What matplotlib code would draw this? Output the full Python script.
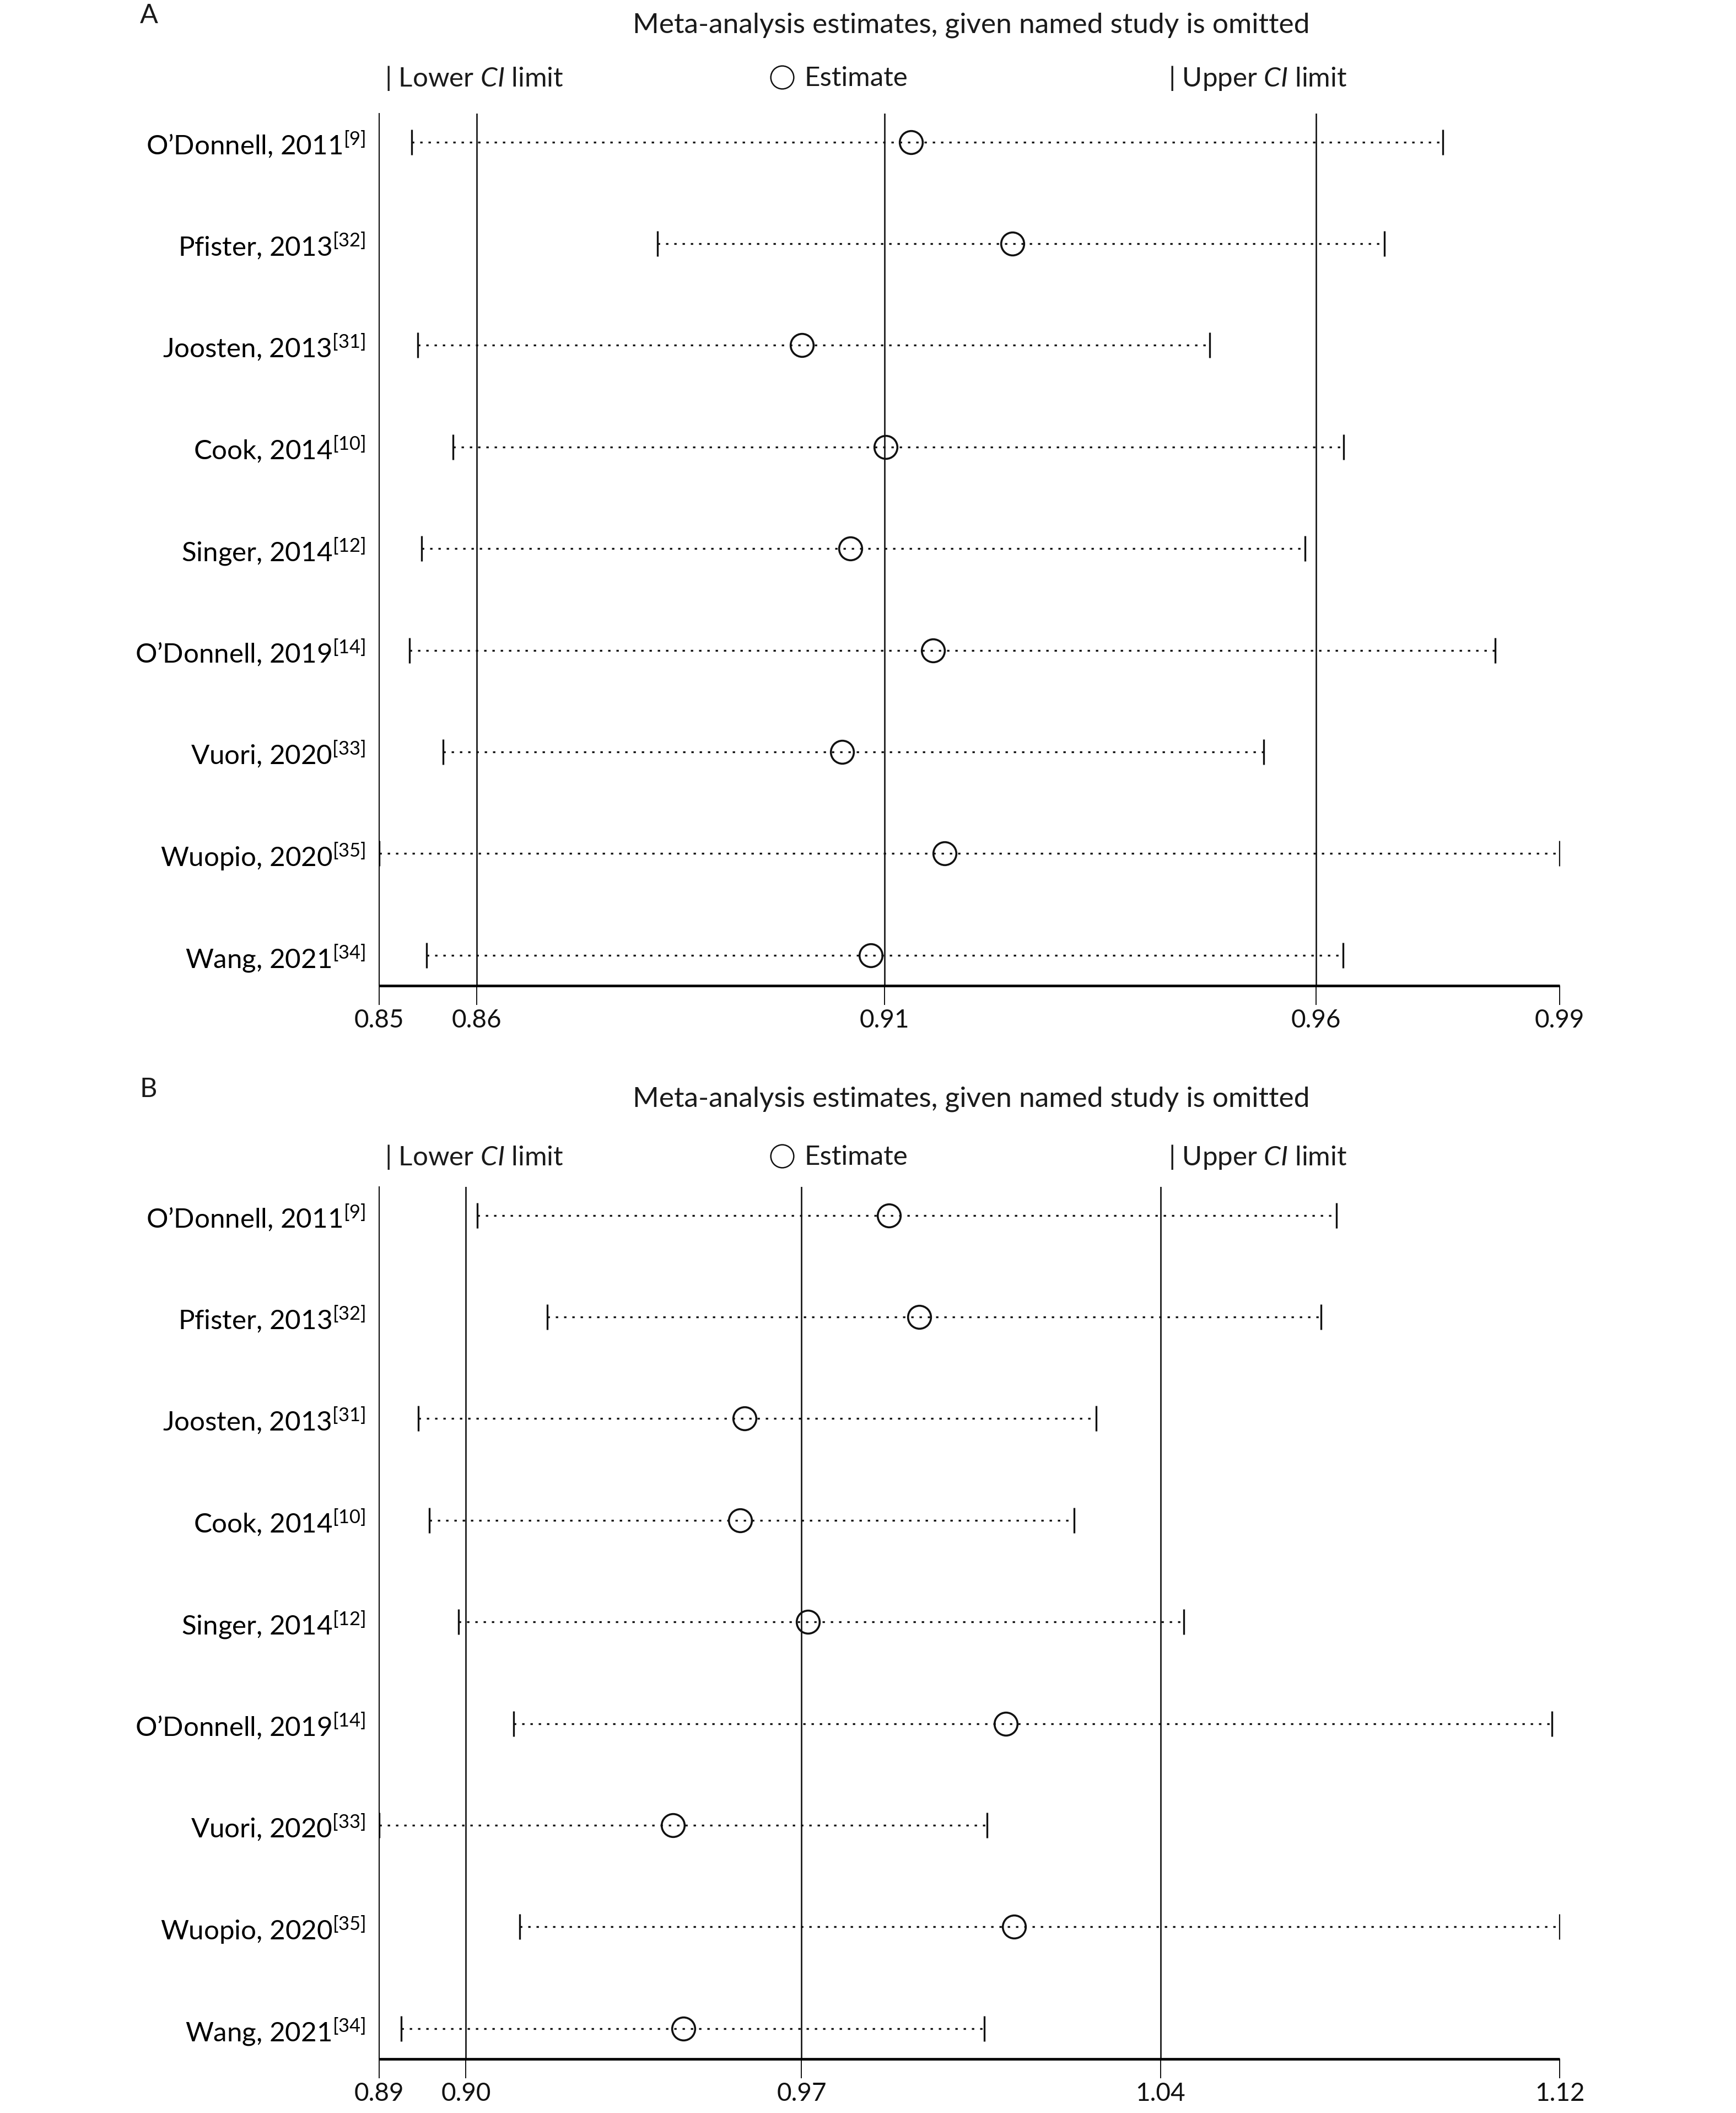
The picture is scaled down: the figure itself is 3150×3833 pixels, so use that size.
import matplotlib
matplotlib.use("Agg")
import matplotlib.pyplot as plt

plt.rcParams['font.family'] = ['Lato', 'DejaVu Sans']
plt.rcParams['mathtext.fontset'] = 'custom'
plt.rcParams['mathtext.rm'] = 'Lato'
plt.rcParams['mathtext.it'] = 'Lato:italic'
plt.rcParams['text.color'] = '#1a1a1a'

studies = ["O’Donnell, 2011", "Pfister, 2013", "Joosten, 2013", "Cook, 2014",
           "Singer, 2014", "O’Donnell, 2019", "Vuori, 2020", "Wuopio, 2020",
           "Wang, 2021"]
refs = ["9", "32", "31", "10", "12", "14", "33", "35", "34"]

# panel A
lower_a = [0.8527, 0.8827, 0.8534, 0.8577, 0.8539, 0.8524, 0.8565, 0.8487, 0.8545]
est_a = [0.9137, 0.9261, 0.9004, 0.9106, 0.9063, 0.9164, 0.9053, 0.9178, 0.9088]
upper_a = [0.9787, 0.9716, 0.9502, 0.9666, 0.9619, 0.9851, 0.9568, 0.9930, 0.9665]
overall_a = [0.8606, 0.9105, 0.9632]   # lower CI, estimate, upper CI

# panel B
lower_b = [0.9069, 0.9204, 0.8955, 0.8976, 0.9033, 0.9139, 0.8880, 0.9150, 0.8922]
est_b = [0.9861, 0.9920, 0.9583, 0.9575, 0.9705, 1.0086, 0.9445, 1.0102, 0.9466]
upper_b = [1.0722, 1.0693, 1.0260, 1.0218, 1.0429, 1.1137, 1.0050, 1.1152, 1.0045]
overall_b = [0.9047, 0.9693, 1.0384]

title = "Meta-analysis estimates, given named study is omitted"

W, H = 3150, 3833


def fx(px):
    return px / W


def fy(py):
    return 1 - py / H


def panel(ax, lo, est, hi, overall, letter, y_letter, y_title, y_leg):
    rows = list(range(1, len(studies) + 1))
    ax.hlines(rows, lo, hi, colors='#111111', lw=2.4, linestyles=(0, (1.3, 3.2)), zorder=2)
    ax.plot(lo, rows, '|', color='#111111', ms=33, mew=2.4, zorder=3)
    ax.plot(hi, rows, '|', color='#111111', ms=33, mew=2.4, zorder=3)
    ax.plot(est, rows, 'o', mfc='none', mec='#111111', ms=30, mew=2.6, zorder=4)
    for v in overall:
        ax.axvline(v, color='#111111', lw=1.9, zorder=1)

    xmin, xmax = min(lo), max(hi)
    ax.set_xlim(xmin, xmax)
    ax.set_ylim(9.3, 0.72)
    ticks = [xmin] + overall + [xmax]
    ax.set_xticks(ticks)
    ax.set_xticklabels([f"{t:.2f}" for t in ticks])
    labels = [f"{s}$^{{[{r}]}}$" for s, r in zip(studies, refs)]
    ax.set_yticks(rows)
    ax.set_yticklabels(labels)
    ax.tick_params(axis='x', length=25, width=1.4, pad=5, labelsize=33, colors='#111111')
    ax.tick_params(axis='y', length=0, pad=18, labelsize=35.5)
    for s in ['top', 'right']:
        ax.spines[s].set_visible(False)
    ax.spines['left'].set_linewidth(1.4)
    ax.spines['bottom'].set_linewidth(3.4)
    ax.spines['bottom'].set_capstyle('butt')

    fig.text(fx(254), fy(y_letter), letter, fontsize=35, ha='left', va='center')
    fig.text(fx(1762), fy(y_title), title, fontsize=37, ha='center', va='center')
    fig.text(fx(698), fy(y_leg), "| Lower $CI$ limit", fontsize=35.5, ha='left', va='center')
    fig.text(fx(1459), fy(y_leg), "Estimate", fontsize=35.5, ha='left', va='center')
    fig.text(fx(2120), fy(y_leg), "| Upper $CI$ limit", fontsize=35.5, ha='left', va='center')
    fig.lines.append(plt.Line2D([fx(1419)], [fy(y_leg - 2)], marker='o', mfc='none',
                                mec='#111111', ms=30, mew=1.8, transform=fig.transFigure))


fig = plt.figure(figsize=(W / 100, H / 100), dpi=100)
ax_a = fig.add_axes([fx(688), fy(1788), fx(2830 - 688), (1788 - 206) / H])
ax_b = fig.add_axes([fx(688), fy(3735), fx(2830 - 688), (3735 - 2153) / H])

panel(ax_a, lower_a, est_a, upper_a, overall_a, "A", 28, 46, 142)
panel(ax_b, lower_b, est_b, upper_b, overall_b, "B", 1976, 1994, 2099)

fig.savefig("out.png", dpi=100, facecolor='white')
